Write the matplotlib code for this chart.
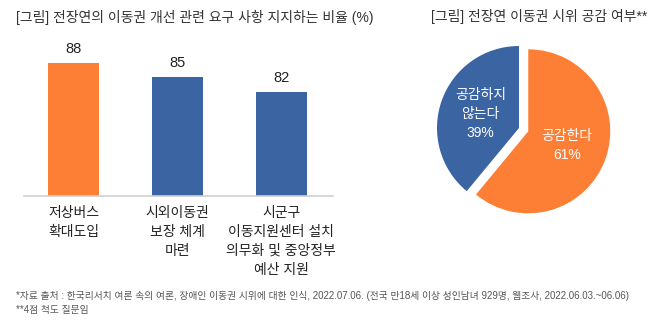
import matplotlib
matplotlib.use("Agg")
import matplotlib.pyplot as plt

plt.rcParams['font.family'] = ['Liberation Sans', 'Noto Sans CJK KR', 'DejaVu Sans']

# bar chart data
bar_labels = ['저상버스\n확대도입', '시외이동권\n보장 체계\n마련', '시군구\n이동지원센터 설치\n의무화 및 중앙정부\n예산 지원']
bar_values = [88, 85, 82]
bar_colors = ['#FD7F35', '#3A64A2', '#3A64A2']

# pie data
pie_labels = ['공감한다\n61%', '공감하지\n않는다\n39%']
pie_values = [61, 39]
pie_colors = ['#FD7F35', '#3A64A2']

W, H = 657, 325
fig = plt.figure(figsize=(W / 100, H / 100), dpi=100)

def px_axes(left, top, width, height):
    return fig.add_axes([left / W, (H - top - height) / H, width / W, height / H])

# --- bar chart ---
ax = px_axes(24, 30, 309, 166)
x = range(len(bar_values))
ax.bar(x, bar_values, width=0.49, color=bar_colors)
for xi, v in zip(x, bar_values):
    ax.annotate(str(v), (xi, v), xytext=(0, 5), textcoords='offset points',
                ha='center', va='bottom', fontsize=10.5, color='#222222')
ax.set_xlim(-0.48, 2.5)
ax.set_ylim(60, 95)
ax.set_yticks([])
ax.set_xticks(list(x))
ax.set_xticklabels(bar_labels, fontsize=10, color='#222222', linespacing=1.45,
                   fontweight='medium')
ax.tick_params(axis='x', length=0, pad=7)
for s in ['top', 'right', 'left']:
    ax.spines[s].set_visible(False)
ax.spines['bottom'].set_color('#d0d0d0')
ax.spines['bottom'].set_linewidth(1.2)

# --- pie chart ---
r_px = 82
ax2 = px_axes(519 - 1.3 * r_px, 128 - 1.3 * r_px, 2.6 * r_px, 2.6 * r_px)
wedges, texts = ax2.pie(pie_values, colors=pie_colors, startangle=90, counterclock=False,
                        explode=[0.12, 0], labels=pie_labels, labeldistance=0.5,
                        textprops=dict(color='white', fontsize=10, ha='center', va='center',
                                       linespacing=1.45, fontweight='medium'))
ax2.set_xlim(-1.3, 1.3)
ax2.set_ylim(-1.3, 1.3)
ax2.set_aspect('equal')
ax2.axis('off')

# --- titles and notes ---
fig.text(16 / W, 1 - 17 / H, '[그림] 전장연의 이동권 개선 관련 요구 사항 지지하는 비율 (%)',
         fontsize=10, color='#333333', va='center', ha='left')
fig.text(647 / W, 1 - 17 / H, '[그림] 전장연 이동권 시위 공감 여부**',
         fontsize=10, color='#333333', va='center', ha='right')
fig.text(16 / W, 1 - 296 / H,
         '*자료 출처 : 한국리서치 여론 속의 여론, 장애인 이동권 시위에 대한 인식, 2022.07.06. '
         '(전국 만18세 이상 성인남녀 929명, 웹조사, 2022.06.03.~06.06)',
         fontsize=7, color='#555555', va='center', ha='left')
fig.text(16 / W, 1 - 310 / H, '**4점 척도 질문임',
         fontsize=7, color='#555555', va='center', ha='left')

fig.savefig('out.png', dpi=100)
